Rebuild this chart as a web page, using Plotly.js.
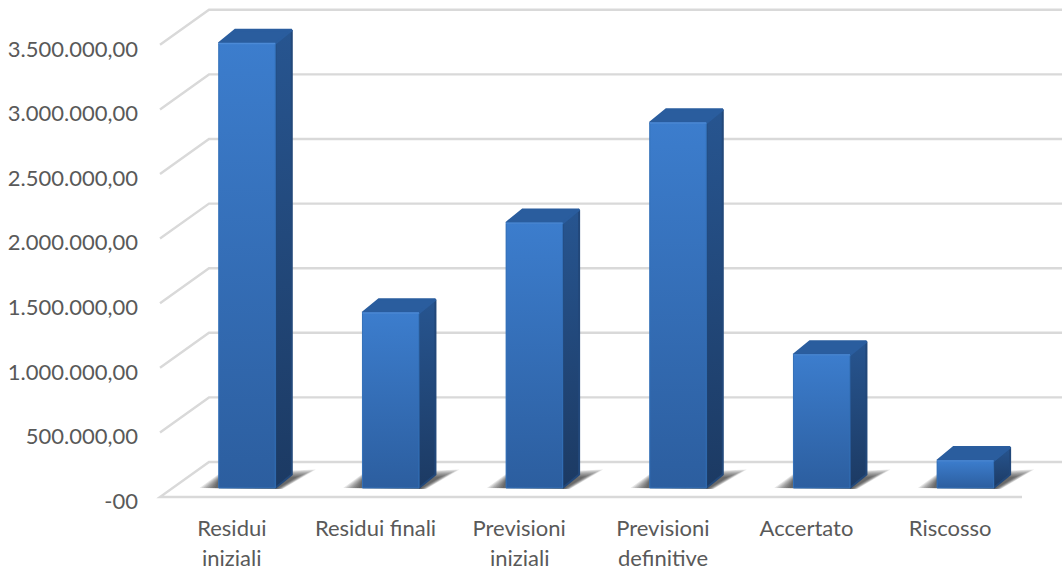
<!DOCTYPE html>
<html><head><meta charset="utf-8">
<script src="https://cdn.plot.ly/plotly-3.0.1.min.js"></script>
<style>html,body{margin:0;padding:0;background:#fff;overflow:hidden}#c{width:1062px;height:572px}</style>
</head><body><div id="c"></div>
<script>
const categoriesLine1 = ['Residui','Residui finali','Previsioni','Previsioni','Accertato','Riscosso'];
const categoriesLine2 = ['iniziali','','iniziali','definitive','',''];
const values = [3440000,1354000,2050000,2825000,1030000,210000];
const tickValues = [0,500000,1000000,1500000,2000000,2500000,3000000,3500000];
const tickLabels = ['-00','500.000,00','1.000.000,00','1.500.000,00','2.000.000,00','2.500.000,00','3.000.000,00','3.500.000,00'];

// pixel geometry of the oblique projection
const W=1062,H=572,ML=150,MB=55,floorPx=497,catPx=143.67,tickPx=64.6;
const ux=1/catPx, uy=500000/tickPx;
const wallDX=49*ux, wallDY=35*uy;
const barOX=15.2*ux, barOY=9*uy, barW=56.5*ux, sideDX=16.5*ux, sideDY=13.5*uy;
const xL=-0.5, xR=5.5;
const font='Lato, "Open Sans", sans-serif';
const shadowLevels=[1.2,1.08,0.96,0.84,0.72,0.6,0.48,0.36,0.24];

const poly=(pts)=>'M'+pts.map(p=>p[0]+','+p[1]).join('L')+'Z';
const shapes=[];
const gridLine={color:'#d9d9d9',width:2.4};
tickValues.forEach(v=>{
  if(v===0) return;
  shapes.push({type:'path',layer:'below',xref:'x',yref:'y',line:gridLine,
    path:`M${xL},${v}L${xL+wallDX},${v+wallDY}L${xR+40*ux},${v+wallDY}`});
});
shapes.push({type:'path',layer:'below',xref:'x',yref:'y',line:gridLine,
  path:`M${xR},0L${xL},0L${xL+wallDX},${wallDY}L${xR+40*ux},${wallDY}`});

// soft floor shadows
values.forEach((v,i)=>{
  const l=i+barOX-barW/2, r=l+barW, b=barOY;
  shadowLevels.forEach(t=>{
    const e=t*16*ux, f=t*20*ux, top=(9+t*8)*uy;
    shapes.push({type:'path',layer:'below',xref:'x',yref:'y',line:{width:0},fillcolor:'rgba(30,30,30,0.11)',
      path:poly([[l-e,b],[l,b+top*0.75],[r+sideDX+f,b+top],[r+6*ux*t,b-uy]])});
  });
});

const traces=[{type:'bar',x:categoriesLine1.map((_,i)=>i),y:values,base:values.map(()=>barOY),
  width:barW,offset:barOX-barW/2,marker:{color:'#3370b8',line:{width:0}},hoverinfo:'skip'}];
values.forEach((v,i)=>{
  const l=i+barOX-barW/2, r=l+barW, b=barOY, t=v+barOY;
  // side
  traces.push({type:'scatter',mode:'lines',fill:'toself',hoverinfo:'skip',
    x:[r,r+sideDX,r+sideDX,r,r],y:[b,b+sideDY,t+sideDY,t,b],
    line:{width:2,color:'#22487a'},
    fillgradient:{type:'vertical',colorscale:[[0,'#1c3a63'],[1,'#275590']]}});
  // top
  traces.push({type:'scatter',mode:'lines',fill:'toself',hoverinfo:'skip',
    x:[l,r,r+sideDX,l+sideDX,l],y:[t,t,t+sideDY,t+sideDY,t],
    line:{width:2.5,color:'#2a5d9e'},fillcolor:'#2a5d9e'});
  // front
  traces.push({type:'scatter',mode:'lines',fill:'toself',hoverinfo:'skip',
    x:[l,r,r,l,l],y:[b,b,t,t,b],
    line:{width:1,color:'#3370b8'},
    fillgradient:{type:'vertical',colorscale:[[0,'#2c5e9f'],[1,'#3c7dcd']]}});
  // lit front top edge
  traces.push({type:'scatter',mode:'lines',hoverinfo:'skip',x:[l,r],y:[t,t],line:{width:1.4,color:'#4c8ad6'}});
});

const annotations=categoriesLine2.map((s,i)=>({text:s,x:i,y:-(558-(H-MB))/(H-MB),xref:'x',yref:'paper',
  showarrow:false,yanchor:'middle',xanchor:'center',font:{family:font,size:22,color:'#595959'}})).filter(a=>a.text);

Plotly.newPlot('c',traces,{
  width:W,height:H,showlegend:false,paper_bgcolor:'#fff',plot_bgcolor:'#fff',
  margin:{l:ML,r:0,t:0,b:MB,pad:0},
  xaxis:{range:[xL-(160-ML)*ux,xR+40*ux],tickmode:'array',tickvals:categoriesLine1.map((_,i)=>i),ticktext:categoriesLine1,
    showgrid:false,zeroline:false,showline:false,ticks:'',tickangle:0,tickfont:{family:font,size:22,color:'#595959'},ticklabelstandoff:-4,fixedrange:true},
  yaxis:{range:[(floorPx-(H-MB))*uy,floorPx*uy],tickmode:'array',tickvals:tickValues,ticktext:tickLabels,
    showgrid:false,zeroline:false,showline:false,ticks:'',tickfont:{family:font,size:22,color:'#595959'},ticklabelstandoff:11,ticklabelshift:4,fixedrange:true},
  shapes,annotations
},{displayModeBar:false,staticPlot:true});
</script></body></html>
